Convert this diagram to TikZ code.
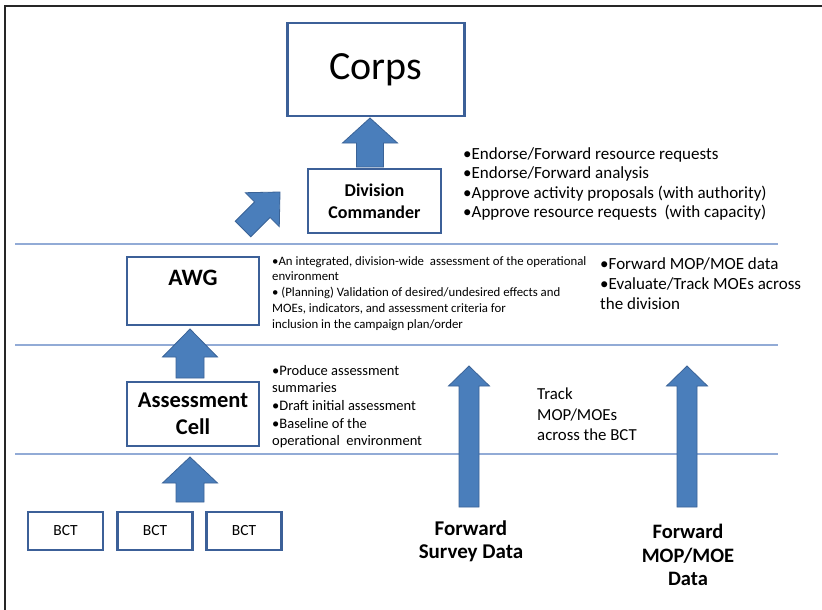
\documentclass[tikz,border=0pt]{standalone}
\usepackage{fontspec}
\setmainfont{Carlito}
\usetikzlibrary{calc}
\definecolor{boxblue}{HTML}{3C6098}
\definecolor{arrfill}{HTML}{4A7EBB}
\definecolor{arredge}{HTML}{3A6397}
\definecolor{sepline}{HTML}{92ABD6}
\definecolor{framecol}{HTML}{262626}
\newcommand\setfs[2]{\fontsize{#1}{#2}\selectfont}
% block arrow: #1 tail, #2 tip, #3 head length, #4 head half width, #5 shaft half width
\newcommand\blockarrow[5]{%
  \coordinate (hb) at ($(#2)!#3!(#1)$);
  \draw[blk] ($(#1)!#5!90:(#2)$) -- ($(hb)!#5!90:(#2)$) -- ($(hb)!#4!90:(#2)$) -- (#2)
    -- ($(hb)!#4!-90:(#2)$) -- ($(hb)!#5!-90:(#2)$) -- ($(#1)!#5!-90:(#2)$) -- cycle;}
\begin{document}
\begin{tikzpicture}[x=1pt,y=-1pt,
  box/.style={draw=boxblue, line width=2.3pt, fill=white, inner sep=0pt, align=center},
  blk/.style={fill=arrfill, draw=arredge, line width=0.8pt, line join=miter},
  sep/.style={draw=sepline, line width=1.2pt},
  txt/.style={inner sep=0pt, anchor=north west, align=left, text=black}]
\useasboundingbox (0,0) rectangle (822,610);
\fill[white] (0,0) rectangle (822,610);
\draw[framecol, line width=2.5pt] (5,614) -- (5,6) -- (826,6);
% separator lines
\coordinate (s1l) at (15,244); \coordinate (s1r) at (778,244);
\coordinate (s2l) at (15,345); \coordinate (s2r) at (778,345);
\coordinate (s3l) at (15,454); \coordinate (s3r) at (778,454);
\draw[sep] (s1l) -- (s1r);
\draw[sep] (s2l) -- (s2r);
\draw[sep] (s3l) -- (s3r);
% boxes
\node[box, minimum width=177pt, minimum height=93pt, font=\setfs{40}{44}] (corps) at (376,69.5) {Corps};
\node[box, minimum width=133pt, minimum height=64pt, font=\setfs{18}{22}\bfseries] (div) at (374.5,201) {Division\\Commander};
\node[box, minimum width=132pt, minimum height=68pt, anchor=north] (awg) at (193,256) {};
\node[font=\setfs{23.5}{26}\bfseries, inner sep=0pt] (awgt) at (193,278) {AWG};
\node[box, minimum width=132pt, minimum height=64pt, font=\setfs{22.5}{26.5}\bfseries] (cell) at (193,414) {Assessment\\Cell};
\node[box, minimum width=75pt, minimum height=38pt, font=\setfs{15.5}{17}] (bct1) at (65.5,531) {BCT};
\node[box, minimum width=75pt, minimum height=38pt, font=\setfs{15.5}{17}] (bct2) at (155,531) {BCT};
\node[box, minimum width=75pt, minimum height=38pt, font=\setfs{15.5}{17}] (bct3) at (244,531) {BCT};
% arrows
\coordinate (a1t) at (370,167); \coordinate (a1h) at (370,118);
\blockarrow{a1t}{a1h}{25pt}{27.5pt}{13.5pt}
\coordinate (a2t) at (243,229); \coordinate (a2h) at (280,192);
\blockarrow{a2t}{a2h}{25pt}{24pt}{11pt}
\coordinate (a3t) at (190,378); \coordinate (a3h) at (190,329);
\blockarrow{a3t}{a3h}{28pt}{27.5pt}{14pt}
\coordinate (a4t) at (190,502); \coordinate (a4h) at (190,457);
\blockarrow{a4t}{a4h}{26pt}{27.5pt}{14pt}
\coordinate (a5t) at (469,507); \coordinate (a5h) at (469,366);
\blockarrow{a5t}{a5h}{20pt}{20.5pt}{10pt}
\coordinate (a6t) at (687,507); \coordinate (a6h) at (687,366);
\blockarrow{a6t}{a6h}{20pt}{20.5pt}{10pt}
% texts
\node[txt, font=\setfs{17}{19.6}] (divtxt) at (463,147) {%
•Endorse/Forward resource requests\\
•Endorse/Forward analysis\\
•Approve activity proposals (with authority)\\
•Approve resource requests~ (with capacity)};
\node[txt, font=\setfs{12.8}{15.8}] (awgtxt) at (272,256) {%
•An integrated, division-wide~ assessment of the operational\\
environment\\
• (Planning) Validation of desired/undesired effects and\\
MOEs, indicators, and assessment criteria for\\
inclusion in the campaign plan/order};
\node[txt, font=\setfs{17}{20}] (divright) at (600,257) {%
•Forward MOP/MOE data\\
•Evaluate/Track MOEs across\\
the division};
\node[txt, font=\setfs{14.5}{17.6}] (celltxt) at (272,365) {%
•Produce assessment\\
summaries\\
•Draft initial assessment\\
•Baseline of the\\
operational~ environment};
\node[txt, font=\setfs{16.8}{20.5}] (track) at (537,388) {%
Track\\
MOP/MOEs\\
across the BCT};
\node[inner sep=0pt, align=center, font=\setfs{21}{23}\bfseries] (fsd) at (471,541) {Forward\\Survey Data};
\node[inner sep=0pt, align=center, font=\setfs{20.5}{23.5}\bfseries] (fmd) at (688,555) {Forward\\MOP/MOE\\Data};
\end{tikzpicture}
\end{document}
